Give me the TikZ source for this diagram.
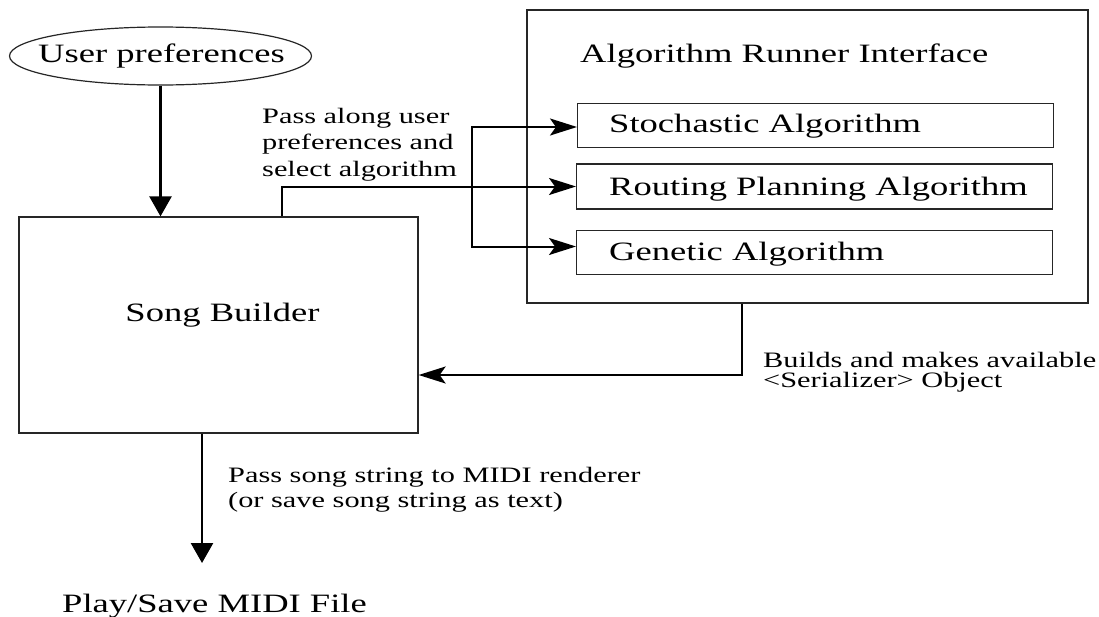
\documentclass[tikz,border=0pt]{standalone}
\usepackage{fontspec}
\setmainfont{Liberation Serif}[FakeStretch=1.38]
\usetikzlibrary{arrows.meta,shapes.geometric}

% type sizes: titles and box captions, and the smaller connector notes
\newcommand\titlesize{\fontsize{26.5}{30}\selectfont}
\newcommand\notesize{\fontsize{22}{26.5}\selectfont}

\begin{document}
\begin{tikzpicture}[x=1pt,y=-1pt,
  outline/.style={draw=black!85, line width=1.3pt},
  algbox/.style={outline, anchor=west, minimum width=476pt, minimum height=44pt, inner sep=0pt},
  heavy/.style={line width=2.6pt, -{Triangle[length=20pt,width=22pt]}},
  wire/.style={line width=2pt},
  wirearrow/.style={wire, -{Stealth[length=27pt,width=17pt,inset=6pt]}},
  note/.style={font=\notesize, align=left, anchor=north west, inner sep=0pt},
  caption/.style={font=\titlesize, inner sep=0pt}]

\useasboundingbox[fill=white] (0,0) rectangle (1099,616);

% input
\node[outline, line width=1.2pt, ellipse, minimum width=302pt, minimum height=58pt,
      inner sep=0pt] (up) at (160.5,56) {};
\node[caption, anchor=base] (uptext) at (161.5,62) {User preferences};

% song builder
\node[outline, minimum width=399pt, minimum height=216pt, inner sep=0pt] (sb) at (218.5,325) {};
\node[caption, anchor=base] (sbtitle) at (222.5,321) {Song Builder};

% algorithm runner and its algorithms
\node[outline, line width=1.2pt, minimum width=561pt, minimum height=293pt, inner sep=0pt] (ari) at (807.5,156.5) {};
\node[caption, anchor=base west] (arititle) at (580,62) {Algorithm Runner Interface};

\node[algbox] (stoch) at (577,125.5) {};
\node[algbox, minimum height=45pt] (rout) at (576,186.5) {};
\node[algbox] (gen) at (576,252.5) {};
\node[caption, anchor=base west] (stochtext) at (609,132) {Stochastic Algorithm};
\node[caption, anchor=base west] (routtext) at (609,195) {Routing Planning Algorithm};
\node[caption, anchor=base west] (gentext) at (609,260) {Genetic Algorithm};

% output
\node[caption, anchor=base west] (play) at (62,612) {Play/Save MIDI File};
\coordinate (playin) at (202,563);

% connectors
\draw[heavy] (up.south) -- (up.south |- sb.north);

\coordinate (sbtap) at ([xshift=63.5pt]sb.north);
\coordinate (fork) at (472,186.5);
\draw[wire] (sbtap) |- (fork);
\draw[wirearrow] (fork) -- (rout.west);
\draw[wirearrow] (fork) |- ([yshift=-1.5pt]stoch.west);
\draw[wirearrow] (fork) |- ([yshift=6pt]gen.west);

\draw[wirearrow] ([xshift=-65.5pt]ari.south) |- ([yshift=-50pt]sb.east);

\draw[heavy] ([xshift=-16.5pt]sb.south) -- (playin);

% notes
\node[note] (passnote) at (262,108) {Pass along user\\preferences and\\select algorithm};
\node[note, font={\fontsize{22}{20}\selectfont}] (buildnote) at (763,352)
  {Builds and makes available\\<Serializer> Object};
\node[note, font={\fontsize{22}{25}\selectfont}] (songnote) at (228,467)
  {Pass song string to MIDI renderer\\(or save song string as text)};

\end{tikzpicture}
\end{document}
